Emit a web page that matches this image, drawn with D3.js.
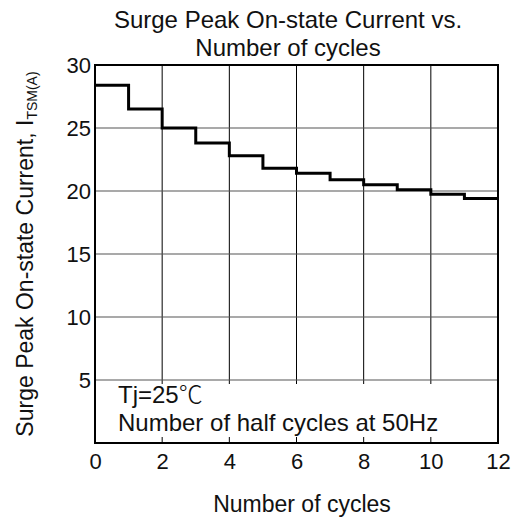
<!DOCTYPE html>
<html>
<head>
<meta charset="utf-8">
<script src="https://cdn.jsdelivr.net/npm/d3@7"></script>
<style>
  body { margin: 0; background: #fff; }
  text { font-family: "Liberation Sans", Arial, sans-serif; fill: #111; }
</style>
</head>
<body>
<script>
// chart values
var cycles = [0, 1, 2, 3, 4, 5, 6, 7, 8, 9, 10, 11, 12];
var current = [28.4, 26.5, 25.0, 23.8, 22.8, 21.8, 21.4, 20.9, 20.5, 20.1, 19.75, 19.4];
var xTicks = [0, 2, 4, 6, 8, 10, 12];
var yTicks = [5, 10, 15, 20, 25, 30];
var titleLines = ["Surge Peak On-state Current vs.", "Number of cycles"];

var width = 516, height = 522;
var margin = {top: 65, right: 18, bottom: 79, left: 95};
var w = width - margin.left - margin.right,
    h = height - margin.top - margin.bottom;

var svg = d3.select("body").append("svg")
    .attr("width", width)
    .attr("height", height);

var x = d3.scaleLinear().domain([0, 12]).range([0, w]);
var y = d3.scaleLinear().domain([0, 30]).range([h, 0]);

var g = svg.append("g")
    .attr("transform", "translate(" + margin.left + "," + margin.top + ")");

// grid
g.selectAll(".vgrid")
  .data(xTicks.slice(1, -1))
  .enter().append("line")
    .attr("x1", d => x(d)).attr("x2", d => x(d))
    .attr("y1", 0).attr("y2", h)
    .attr("stroke", "#000").attr("stroke-width", 1);

// white note box covers the lower grid
g.append("rect")
  .attr("x", 2).attr("y", y(5) + 4)
  .attr("width", w - 4).attr("height", h - y(5) - 10)
  .attr("fill", "#fff");

g.selectAll(".hgrid")
  .data(yTicks.slice(0, -1))
  .enter().append("line")
    .attr("x1", 0).attr("x2", w)
    .attr("y1", d => y(d)).attr("y2", d => y(d))
    .attr("stroke", "#555").attr("stroke-width", 1.2);

// step line
var pts = [];
current.forEach(function(v, i) {
  pts.push([cycles[i], v]);
  pts.push([cycles[i + 1], v]);
});
var line = d3.line().x(d => x(d[0])).y(d => y(d[1]));
g.append("path")
  .attr("d", line(pts))
  .attr("fill", "none")
  .attr("stroke", "#000")
  .attr("stroke-width", 3);

// frame
g.append("rect")
  .attr("x", 0).attr("y", 0)
  .attr("width", w).attr("height", h)
  .attr("fill", "none")
  .attr("stroke", "#000")
  .attr("stroke-width", 2);

// axes (labels only)
var xAxis = g.append("g")
  .attr("transform", "translate(0," + h + ")")
  .call(d3.axisBottom(x).tickValues(xTicks).tickSize(0).tickPadding(10));
xAxis.select(".domain").remove();
xAxis.selectAll("text").attr("font-size", 22).attr("font-family", null);

var yAxis = g.append("g")
  .call(d3.axisLeft(y).tickValues(yTicks).tickSize(0).tickPadding(4));
yAxis.select(".domain").remove();
yAxis.selectAll("text").attr("font-size", 22).attr("font-family", null);

// title
svg.selectAll(".title")
  .data(titleLines)
  .enter().append("text")
    .attr("x", 288)
    .attr("y", (d, i) => 28 + i * 28)
    .attr("text-anchor", "middle")
    .attr("font-size", 24)
    .text(d => d);

// x label
svg.append("text")
  .attr("x", 302).attr("y", 512)
  .attr("text-anchor", "middle")
  .attr("font-size", 23)
  .text("Number of cycles");

// y label
var yl = svg.append("text")
  .attr("transform", "translate(33,254) rotate(-90)")
  .attr("text-anchor", "middle")
  .attr("font-size", 23);
yl.append("tspan").text("Surge Peak On-state Current, I");
yl.append("tspan").attr("font-size", 14).attr("dy", 4).text("TSM(A)");

// note
var note1 = g.append("text")
  .attr("x", 23).attr("y", y(5) + 23)
  .attr("font-size", 24);
note1.append("tspan").text("Tj=25");
note1.append("tspan")
  .attr("font-family", "'Noto Sans CJK SC', sans-serif")
  .attr("font-weight", 300)
  .text("\u2103");
g.append("text")
  .attr("x", 23).attr("y", y(5) + 51)
  .attr("font-size", 24)
  .text("Number of half cycles at 50Hz");
</script>
</body>
</html>
